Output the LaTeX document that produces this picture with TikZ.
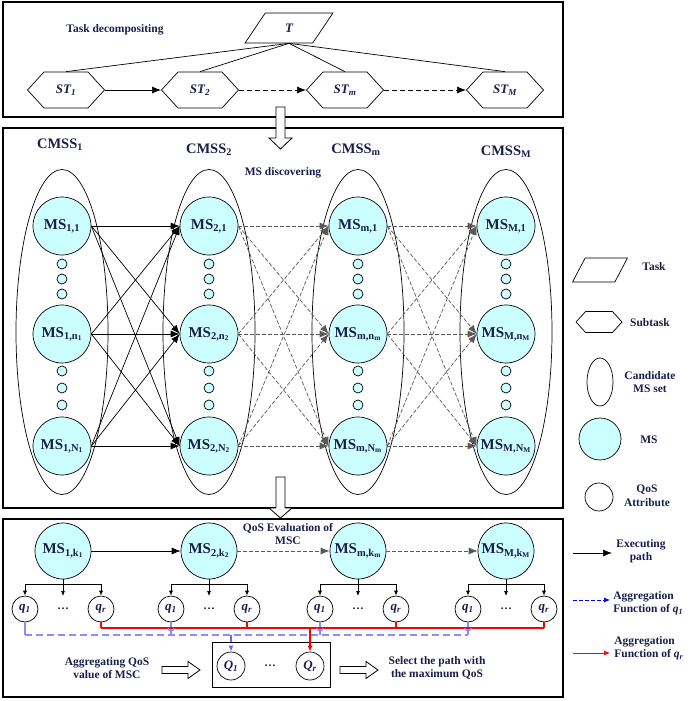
\documentclass[tikz,border=0pt]{standalone}
\usepackage{fontspec}
\setmainfont{Liberation Serif}
\usetikzlibrary{arrows.meta, shapes.geometric, shapes.symbols}
\definecolor{msfill}{RGB}{204,255,255}
\definecolor{txt}{RGB}{25,30,75}
\definecolor{qblue}{RGB}{140,140,255}
\newcommand{\bigfont}{\fontsize{15}{17}\selectfont\bfseries}
\newcommand{\midfont}{\fontsize{13}{15}\selectfont\bfseries\itshape}
\newcommand{\smallfont}{\fontsize{11.5}{13.5}\selectfont\bfseries}

\begin{document}
\begin{tikzpicture}[x=1pt, y=-1pt, line width=.7pt,
    every node/.style={text=txt},
    panel/.style={draw, line width=1.1pt},
    lbl/.style={font=\smallfont, align=center, inner sep=1pt},
    task/.style={trapezium, trapezium left angle=68, trapezium right angle=112, trapezium stretches=true, draw, inner sep=1pt},
    subtask/.style={signal, signal to=west and east, signal pointer angle=95, draw, inner sep=0pt},
    ms/.style={circle, draw, fill=msfill, inner sep=0pt, font=\bigfont},
    dotms/.style={circle, draw, fill=msfill, minimum size=10, inner sep=0pt},
    cmss/.style={ellipse, draw, minimum width=92, minimum height=325},
    cmsslbl/.style={font=\fontsize{14.5}{16}\selectfont\bfseries},
    qos/.style={circle, draw, minimum size=26, inner sep=0pt, font=\midfont},
    flow/.style={-{Latex[length=9pt,width=7pt]}},
    grayflow/.style={flow, dash pattern=on 4pt off 2pt, draw=black!65},
    qtip/.style={-{Latex[length=5pt,width=4pt]}},
    aggone/.style={draw=qblue, dash pattern=on 7pt off 4pt, line width=1.3pt},
    aggr/.style={draw=red, line width=1.1pt},
    blockarr/.style={draw, fill=white, line width=.8pt}]

\useasboundingbox (0,0) rectangle (696,701);

\draw[panel] (3,2) rectangle (563,117);
\node[lbl] (decomp) at (115,30) {Task decompositing};
\node[task, minimum width=88, minimum height=30, font=\midfont] (T) at (289,28) {T};
\node[subtask, minimum width=77, minimum height=36, font=\midfont] (st1) at (66,90) {ST\textsubscript{1}};
\node[subtask, minimum width=77, minimum height=36, font=\midfont] (st2) at (200,90) {ST\textsubscript{2}};
\node[subtask, minimum width=77, minimum height=36, font=\midfont] (st3) at (345,90) {ST\textsubscript{m}};
\node[subtask, minimum width=77, minimum height=36, font=\midfont] (st4) at (505,90) {ST\textsubscript{M}};
\foreach \i in {1,...,4}
    \draw (T.south) -- (st\i.north);
\draw[flow] (st1.east) -- (st2.west);
\draw[flow, dash pattern=on 5pt off 3pt] (st2.east) -- (st3.west);
\draw[flow, dash pattern=on 5pt off 3pt] (st3.east) -- (st4.west);

\draw[panel] (3,128) rectangle (563,508);
\foreach \c/\x/\s in {1/62/1, 2/209/2, 3/358/m, 4/506/M} {
    \node[ms, minimum size=58] (ms\c1) at (\x,226) {MS\textsubscript{\s,1}};
    \node[ms, minimum size=58] (ms\c2) at (\x,334) {MS\textsubscript{\s,n\textsubscript{\s}}};
    \node[ms, minimum size=58] (ms\c3) at (\x,446) {MS\textsubscript{\s,N\textsubscript{\s}}};
    \foreach \y in {264,279,294,371,388,405}
        \node[dotms] (dot\c-\y) at (\x,\y) {};
    \node[cmss] (cmss\c) at (\x,332) {};
}
\node[cmsslbl] (cmsslbl1) at (60,145) {CMSS\textsubscript{1}};
\node[cmsslbl] (cmsslbl2) at (209,150) {CMSS\textsubscript{2}};
\node[cmsslbl] (cmsslbl3) at (356,150) {CMSS\textsubscript{m}};
\node[cmsslbl] (cmsslbl4) at (506,152) {CMSS\textsubscript{M}};
\node[lbl] (discover) at (283,173) {MS discovering};
\foreach \a in {1,2,3}
    \foreach \b in {1,2,3}
        \draw[flow] (ms1\a.east) -- (ms2\b.west);
\foreach \c/\d in {2/3,3/4}
    \foreach \a in {1,2,3}
        \foreach \b in {1,2,3}
            \draw[grayflow] (ms\c\a.east) -- (ms\d\b.west);

\draw[panel] (3,519) rectangle (563,697);
\foreach \c/\x/\s in {1/63/1, 2/209/2, 3/358/m, 4/506/M} {
    \node[ms, minimum size=56] (bms\c) at (\x,551) {MS\textsubscript{\s,k\textsubscript{\s}}};
    \coordinate (bar\c) at (\x,584);
    \coordinate (tip\c) at (\x,596);
    \node[qos] (qa\c) at (\x-38,609) {q\textsubscript{1}};
    \node[qos] (qb\c) at (\x+38,609) {q\textsubscript{r}};
    \node[font=\smallfont] (qd\c) at (\x,609) {\dots};
    \coordinate (bl\c) at (\x-38,635);
    \coordinate (rl\c) at (\x+38,628);
    \draw (bms\c.south) -- (bar\c);
    \draw[qtip] (bar\c) -| (qa\c.north);
    \draw[qtip] (bar\c) -| (qb\c.north);
    \draw[qtip] (bar\c) -- (tip\c);
    \draw[aggone, solid] (qa\c.south) -- (bl\c);
    \draw[aggr] (qb\c.south) -- (rl\c);
}
\draw[flow] (bms1.east) -- (bms2.west);
\draw[grayflow] (bms2.east) -- (bms3.west);
\draw[grayflow] (bms3.east) -- (bms4.west);
\node[lbl] (evaltxt) at (288,534) {QoS Evaluation of\\MSC};
\draw[aggone] (bl1) -- (bl4);
\draw[aggr] (rl1) -- (rl4);
\foreach \x in {171,320,468}
    \draw[qblue, line width=1.2pt] (\x-3,628) arc (180:0:3);
\node[draw, minimum width=118, minimum height=45, line width=1pt] (qbox) at (271,664.5) {};
\node[qos, minimum size=28] (Q1) at (231,666) {Q\textsubscript{1}};
\node[qos, minimum size=28] (Qr) at (310,666) {Q\textsubscript{r}};
\node[font=\smallfont] (Qd) at (270,666) {\dots};
\draw[aggone, draw=blue!60, -{Latex[length=6pt,width=5pt]}] (Q1.north |- bl1) -- (Q1.north);
\draw[aggr, -{Latex[length=6pt,width=5pt]}] (Qr.north |- rl1) -- (Qr.north);
\node[lbl] (aggtxt) at (107,668) {Aggregating QoS\\value of MSC};
\node[lbl] (seltxt) at (437,668) {Select the path with\\the maximum QoS};
\draw[blockarr] (162,666.5) -- (188,666.5) -- (188,661.5) -- (200,670) -- (188,678.5) -- (188,673.5) -- (162,673.5) -- cycle;
\draw[blockarr] (340,666.5) -- (366,666.5) -- (366,661.5) -- (378,670) -- (366,678.5) -- (366,673.5) -- (340,673.5) -- cycle;

\draw[blockarr] (276,107) -- (285,107) -- (285,138) -- (292,138) -- (280.5,149) -- (269,138) -- (276,138) -- cycle;
\draw[blockarr] (276,477) -- (285,477) -- (285,508) -- (292,508) -- (280.5,518) -- (269,508) -- (276,508) -- cycle;

\node[task, minimum width=55, minimum height=24] (lgtask) at (600,270) {\phantom{T}};
\node[lbl] (lgtasklbl) at (654,267) {Task};
\node[subtask, minimum width=46, minimum height=21] (lgsub) at (599,322) {};
\node[lbl] (lgsublbl) at (650,323) {Subtask};
\node[ellipse, draw, minimum width=26, minimum height=48] (lgset) at (600,382) {};
\node[lbl] (lgsetlbl) at (650,382) {Candidate\\MS set};
\node[ms, minimum size=42] (lgms) at (600,439) {};
\node[lbl] (lgmslbl) at (649,440) {MS};
\node[qos, minimum size=28] (lgqos) at (599,497) {};
\node[lbl] (lgqoslbl) at (647,496) {QoS\\Attribute};
\coordinate (lgexa) at (573,553);
\coordinate (lgexb) at (612,553);
\draw[flow] (lgexa) -- (lgexb);
\node[lbl] (lgexlbl) at (641,551) {Executing\\path};
\coordinate (lgbla) at (573,600);
\coordinate (lgblb) at (610,600);
\draw[dash pattern=on 4pt off 2pt, draw=blue, -{Latex[length=6pt,width=5pt]}] (lgbla) -- (lgblb);
\node[lbl, anchor=west, align=left] (lgbllbl) at (612,603) {Aggregation\\ Function of \textit{q}\textsubscript{\textit{1}}};
\coordinate (lgrda) at (573,653);
\coordinate (lgrdb) at (610,653);
\draw[draw=red, -{Latex[length=6pt,width=5pt]}] (lgrda) -- (lgrdb);
\node[lbl, anchor=west, align=left] (lgrdlbl) at (613,648) {Aggregation\\ Function of \textit{q}\textsubscript{\textit{r}}};
\end{tikzpicture}
\end{document}
